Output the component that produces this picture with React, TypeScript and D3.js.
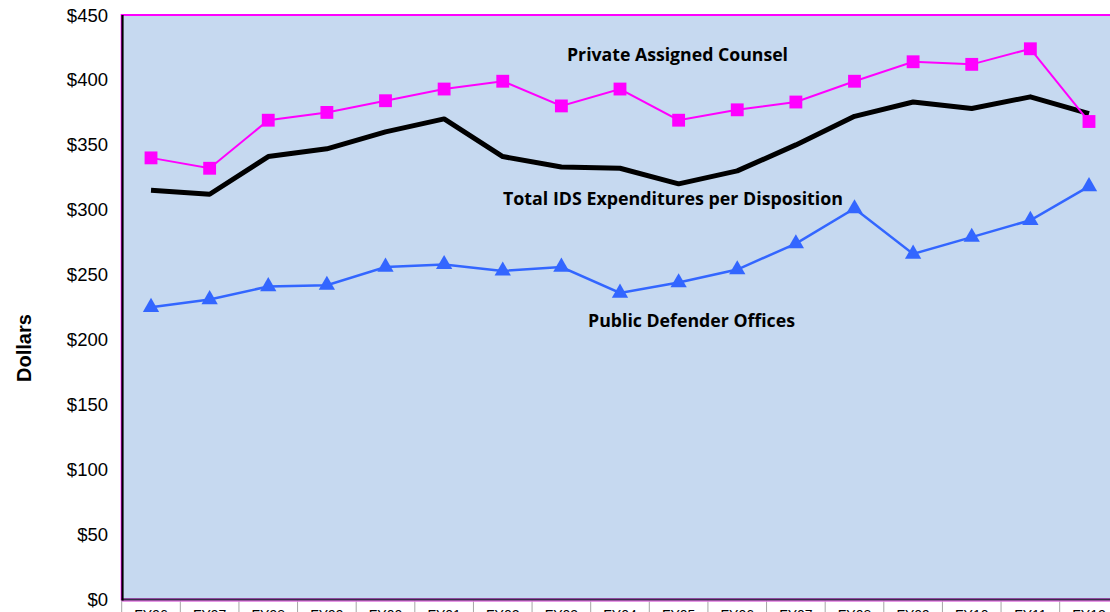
import React from 'react';
import * as d3 from 'd3';

// fiscal years on the x axis
const years = ['FY96', 'FY97', 'FY98', 'FY99', 'FY00', 'FY01', 'FY02', 'FY03', 'FY04',
  'FY05', 'FY06', 'FY07', 'FY08', 'FY09', 'FY10', 'FY11', 'FY12'];

// dollars per disposition
const privateCounsel = [340, 332, 369, 375, 384, 393, 399, 380, 393, 369, 377, 383, 399, 414, 412, 424, 368];
const totalIDS = [315, 312, 341, 347, 360, 370, 341, 333, 332, 320, 330, 350, 372, 383, 378, 387, 374];
const publicDefender = [225, 231, 241, 242, 256, 258, 253, 256, 236, 244, 254, 274, 301, 266, 279, 292, 318];

const yTicks = [0, 50, 100, 150, 200, 250, 300, 350, 400, 450];

const labelPrivate = 'Private Assigned Counsel';
const labelTotal = 'Total IDS Expenditures per Disposition';
const labelPublic = 'Public Defender Offices';
const yTitle = 'Dollars';

const W = 1110;
const H = 612;
const left = 121.7;
const right = 1118.3;
const top = 15;
const bottom = 599.5;

export default function App() {
  const x = d3.scaleBand<string>().domain(years).range([left, right]).padding(0);
  const bw = x.bandwidth();
  const cx = (i: number) => (x(years[i]) as number) + bw / 2;
  const y = d3.scaleLinear().domain([0, 450]).range([bottom, top]);

  const line = d3.line<number>().x((d, i) => cx(i)).y(d => y(d));
  const square = d3.symbol(d3.symbolSquare, 165)();
  const tri = d3.symbol(d3.symbolTriangle, 115)();

  const labelFont = "'Open Sans', 'Noto Sans', sans-serif";
  const axisFont = "'Liberation Sans', Arial, sans-serif";

  return (
    <svg width={W} height={H} style={{ position: 'absolute', left: 0, top: 0, background: '#fff' }}>
      {/* plot area */}
      <rect x={left} y={top} width={right - left} height={bottom - top}
        fill="#C6D9F0" stroke="#FF00FF" strokeWidth={2} />

      {/* category separators under the axis */}
      {years.map(c => (
        <line key={'sep' + c} x1={x(c)} x2={x(c)} y1={bottom + 1} y2={H}
          stroke="#A6A6A6" strokeWidth={1} />
      ))}
      <line x1={right} x2={right} y1={bottom + 1} y2={H} stroke="#A6A6A6" strokeWidth={1} />

      {/* axes */}
      <line x1={left} x2={right} y1={bottom + 1.8} y2={bottom + 1.8} stroke="#E080E0" strokeWidth={1} />
      <line x1={left} x2={right} y1={bottom} y2={bottom} stroke="#3A2A48" strokeWidth={2} />
      <line x1={left + 0.8} x2={left + 0.8} y1={top} y2={bottom + 1} stroke="#000" strokeWidth={2.2} />

      {/* y tick labels */}
      {yTicks.map(t => (
        <text key={'yt' + t} x={108} y={y(t)} textAnchor="end" dominantBaseline="central"
          fontFamily={axisFont} fontSize={18.5} fill="#000">{'$' + t}</text>
      ))}

      {/* x tick labels (cut by the bottom edge, as in the source) */}
      {years.map((c, i) => (
        <text key={'xt' + c} x={cx(i)} y={619.5} textAnchor="middle"
          fontFamily={axisFont} fontSize={14} fill="#000">{c}</text>
      ))}

      {/* y title */}
      <text transform={`translate(31,348) rotate(-90)`} textAnchor="middle"
        fontFamily={axisFont} fontSize={20} fontWeight="bold" fill="#000">{yTitle}</text>

      {/* series */}
      <path d={line(totalIDS) as string} fill="none" stroke="#000" strokeWidth={5} strokeLinejoin="round" />
      <path d={line(publicDefender) as string} fill="none" stroke="#3366FF" strokeWidth={2.5} />
      {publicDefender.map((v, i) => (
        <path key={'pd' + i} d={tri as string} transform={`translate(${cx(i)},${y(v)})`} fill="#3366FF" />
      ))}
      <path d={line(privateCounsel) as string} fill="none" stroke="#FF00FF" strokeWidth={2} />
      {privateCounsel.map((v, i) => (
        <path key={'pc' + i} d={square as string} transform={`translate(${cx(i)},${y(v)})`} fill="#FF00FF" />
      ))}

      {/* series labels */}
      <text x={567} y={60.5} fontFamily={labelFont} fontSize={18} fontWeight="bold" fill="#000"
        textLength={221} lengthAdjust="spacingAndGlyphs">{labelPrivate}</text>
      <text x={503} y={205} fontFamily={labelFont} fontSize={18} fontWeight="bold" fill="#000"
        textLength={340} lengthAdjust="spacingAndGlyphs">{labelTotal}</text>
      <text x={588} y={326.5} fontFamily={labelFont} fontSize={18} fontWeight="bold" fill="#000"
        textLength={207} lengthAdjust="spacingAndGlyphs">{labelPublic}</text>
    </svg>
  );
}
